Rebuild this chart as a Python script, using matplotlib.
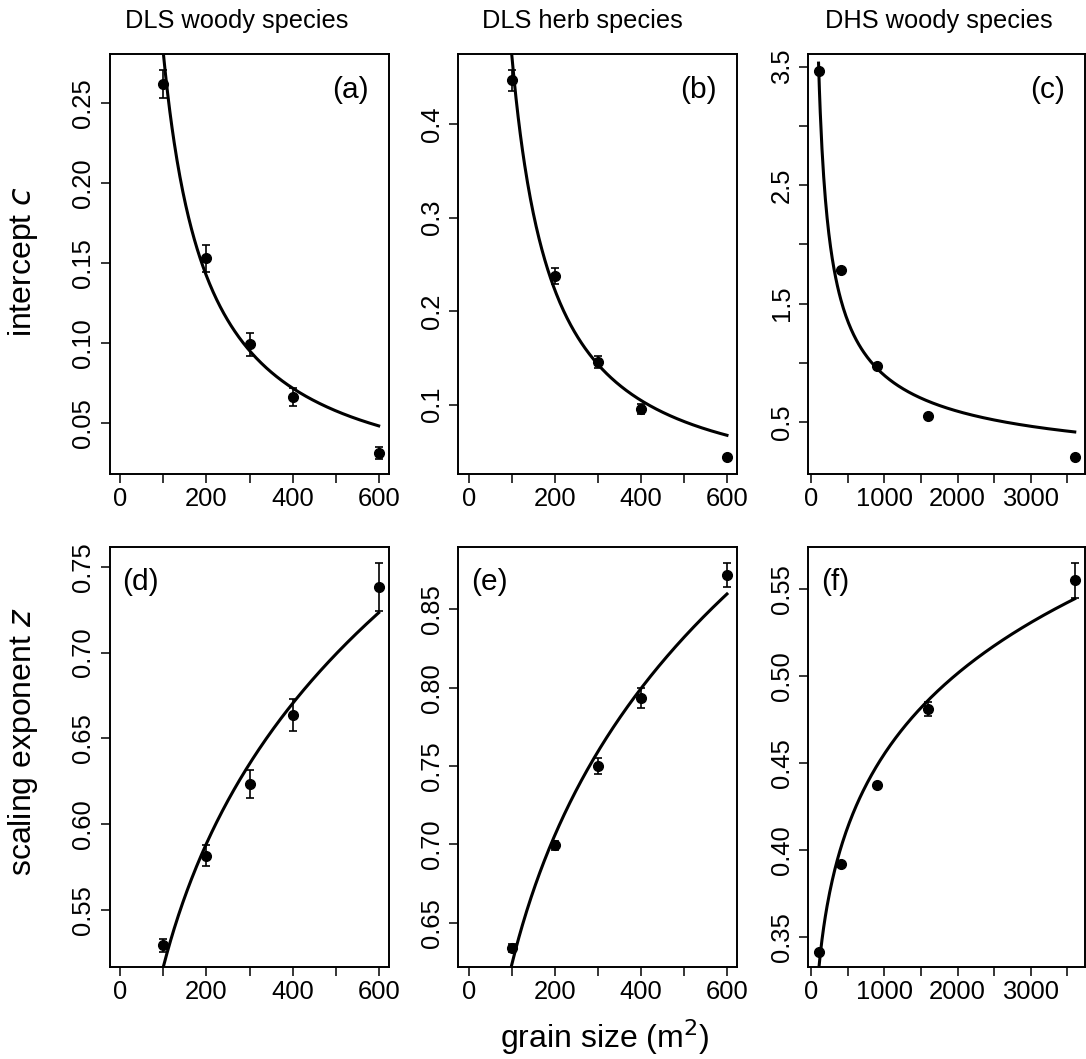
import matplotlib.pyplot as plt
import numpy as np

plt.rcParams['font.family'] = ['Liberation Sans', 'DejaVu Sans']

# grain sizes (m2)
grain_dls = [100, 200, 300, 400, 600]
grain_dhs = [100, 400, 900, 1600, 3600]

# intercept c
c_dls_woody = [0.262, 0.153, 0.0992, 0.066, 0.0309]
c_dls_woody_err = [0.009, 0.0083, 0.0071, 0.0055, 0.0038]
c_dls_herb = [0.4468, 0.2375, 0.1453, 0.095, 0.0439]
c_dls_herb_err = [0.011, 0.0085, 0.0066, 0.0053, 0.002]
c_dhs_woody = [3.466, 1.779, 0.969, 0.548, 0.204]
c_dhs_woody_err = [0.012, 0.01, 0.008, 0.008, 0.014]

# scaling exponent z
z_dls_woody = [0.5294, 0.5816, 0.6235, 0.6636, 0.7383]
z_dls_woody_err = [0.0037, 0.006, 0.008, 0.0096, 0.014]
z_dls_herb = [0.634, 0.6994, 0.75, 0.7934, 0.8719]
z_dls_herb_err = [0.0026, 0.003, 0.005, 0.0065, 0.0077]
z_dhs_woody = [0.3412, 0.392, 0.437, 0.4807, 0.5548]
z_dhs_woody_err = [0.001, 0.001, 0.0015, 0.004, 0.0101]

# fitted power curves: value at 100 m2 and exponent
fit_c_dls_woody = (0.281, -0.985)
fit_c_dls_herb = (0.475, -1.092)
fit_c_dhs_woody = (3.53, -0.597)
fit_z_dls_woody = (0.517, 0.1873)
fit_z_dls_herb = (0.623, 0.1798)
fit_z_dhs_woody = (0.330, 0.1396)

titles = ['DLS woody species', 'DLS herb species', 'DHS woody species']
panel_tags = ['(a)', '(b)', '(c)', '(d)', '(e)', '(f)']

xt_dls = [0, 100, 200, 300, 400, 500, 600]
xl_dls = ['0', '', '200', '', '400', '', '600']
xt_dhs = [0, 500, 1000, 1500, 2000, 2500, 3000, 3500]
xl_dhs = ['0', '', '1000', '', '2000', '', '3000', '']

yt = [
    [0.05, 0.10, 0.15, 0.20, 0.25],
    [0.1, 0.2, 0.3, 0.4],
    [0.5, 1.0, 1.5, 2.0, 2.5, 3.0, 3.5],
    [0.55, 0.60, 0.65, 0.70, 0.75],
    [0.65, 0.70, 0.75, 0.80, 0.85],
    [0.35, 0.40, 0.45, 0.50, 0.55],
]
yl = [
    ['0.05', '0.10', '0.15', '0.20', '0.25'],
    ['0.1', '0.2', '0.3', '0.4'],
    ['0.5', '', '1.5', '', '2.5', '', '3.5'],
    ['0.55', '0.60', '0.65', '0.70', '0.75'],
    ['0.65', '0.70', '0.75', '0.80', '0.85'],
    ['0.35', '0.40', '0.45', '0.50', '0.55'],
]
ylims = [(0.0178, 0.2808), (0.0254, 0.475), (0.058, 3.607),
         (0.5166, 0.7613), (0.6215, 0.8896), (0.3324, 0.5738)]

panels = [
    (grain_dls, c_dls_woody, c_dls_woody_err, fit_c_dls_woody),
    (grain_dls, c_dls_herb, c_dls_herb_err, fit_c_dls_herb),
    (grain_dhs, c_dhs_woody, c_dhs_woody_err, fit_c_dhs_woody),
    (grain_dls, z_dls_woody, z_dls_woody_err, fit_z_dls_woody),
    (grain_dls, z_dls_herb, z_dls_herb_err, fit_z_dls_herb),
    (grain_dhs, z_dhs_woody, z_dhs_woody_err, fit_z_dhs_woody),
]

W, H = 1086, 1059
fig = plt.figure(figsize=(W / 100, H / 100), dpi=100)

col_px = [(110, 389), (458.3, 737.3), (808.3, 1085)]
row_px = [(54, 474.3), (547.3, 967.3)]

for i in range(6):
    r, c = divmod(i, 3)
    x0, x1 = col_px[c]
    y0, y1 = row_px[r]
    ax = fig.add_axes([x0 / W, 1 - y1 / H, (x1 - x0) / W, (y1 - y0) / H])

    x, y, err, fit = panels[i]
    ax.errorbar(x, y, yerr=err, fmt='o', color='black', ms=7,
                capsize=3.2, elinewidth=1.2, capthick=1.2, zorder=3)
    xs = np.linspace(min(x), max(x), 300)
    ax.plot(xs, fit[0] * (xs / 100.0) ** fit[1], color='black', lw=2.2)

    if c < 2:
        ax.set_xlim(-24, 624)
        ax.set_xticks(xt_dls)
        ax.set_xticklabels(xl_dls)
    else:
        ax.set_xlim(-40, 3740)
        ax.set_xticks(xt_dhs)
        ax.set_xticklabels(xl_dhs)
    ax.set_ylim(*ylims[i])
    ax.set_yticks(yt[i])
    ax.set_yticklabels(yl[i])

    ax.tick_params(direction='out', length=6.5, width=1.1,
                   labelsize=18.4, pad=3)
    ax.tick_params(axis='y', labelrotation=90, pad=4)
    for lab in ax.get_yticklabels():
        lab.set_va('center')
    for s in ax.spines.values():
        s.set_linewidth(1.4)

    if r == 0:
        ax.text(0.927, 0.914, panel_tags[i], transform=ax.transAxes,
                ha='right', va='center', fontsize=21.5)
    else:
        ax.text(0.045, 0.918, panel_tags[i], transform=ax.transAxes,
                ha='left', va='center', fontsize=21.5)

title_x = [236.7, 582, 938.8]
for t, tx in zip(titles, title_x):
    fig.text(tx / W, 1 - 20.7 / H, t, ha='center', va='center', fontsize=18.3)

fig.text(23 / W, 1 - 262 / H, 'intercept $\\it{c}$', rotation=90,
         ha='center', va='center', fontsize=23)
fig.text(23 / W, 1 - 742 / H, 'scaling exponent $\\it{z}$', rotation=90,
         ha='center', va='center', fontsize=23)
fig.text(605 / W, 1 - 1037 / H, 'grain size (m$^2$)', ha='center',
         va='center', fontsize=23)

fig.savefig('out.png', dpi=100)
